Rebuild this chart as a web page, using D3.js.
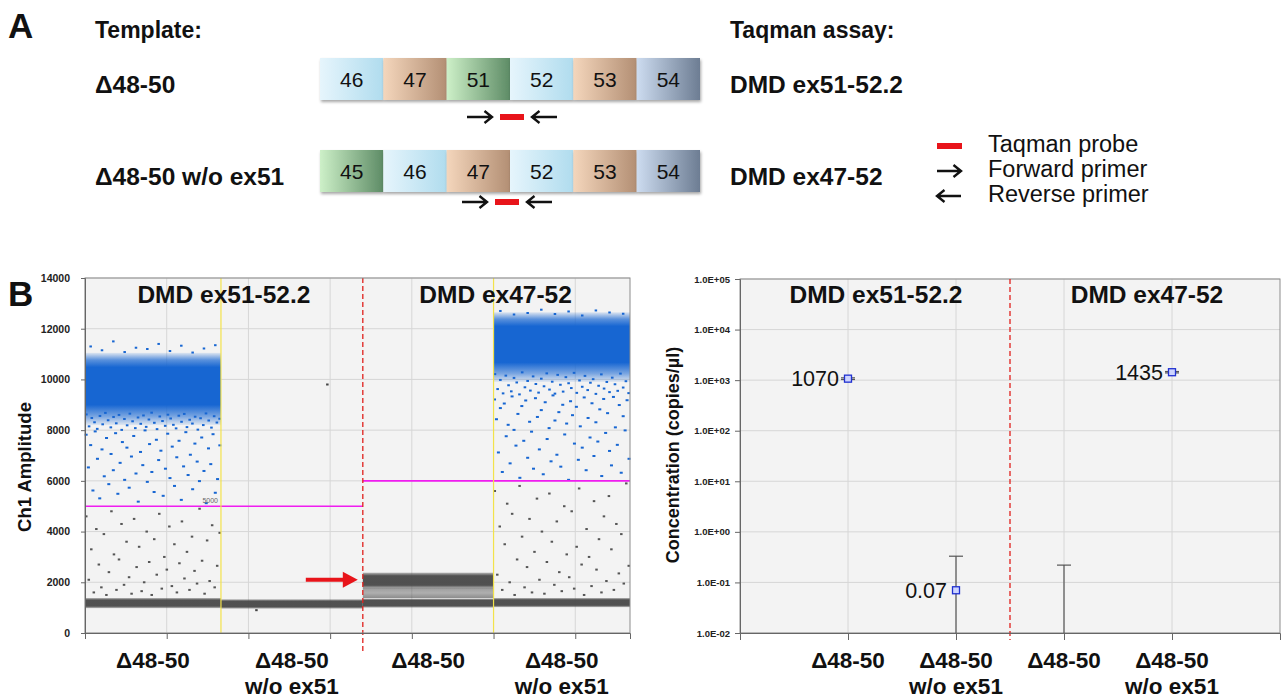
<!DOCTYPE html>
<html>
<head>
<meta charset="utf-8">
<script src="https://cdn.jsdelivr.net/npm/d3@7"></script>
<style>
  body { margin: 0; background: #fff; }
  text { font-family: "Liberation Sans", Arial, sans-serif; fill: #111; }
</style>
</head>
<body>
<svg id="fig" width="1286" height="700"></svg>
<script>
// ---------------- data ----------------
// panel A
const rowExons1 = ['46', '47', '51', '52', '53', '54']
const rowExons2 = ['45', '46', '47', '52', '53', '54']
const templates = ['Δ48-50', 'Δ48-50 w/o ex51']
const assays = ['DMD ex51-52.2', 'DMD ex47-52']
const legendItems = ['Taqman probe', 'Forward primer', 'Reverse primer']
const exonFamily = { 45: 'green', 46: 'blue', 47: 'tan', 51: 'green', 52: 'blue', 53: 'tan', 54: 'slate' }

// panel B left: droplet amplitudes
const wellLabels = [['Δ48-50'], ['Δ48-50', 'w/o ex51'], ['Δ48-50'], ['Δ48-50', 'w/o ex51']]
const wellEvents = [8320, 8680, 8000, 8350]
const thresholds = [5000, 5000, 6000, 6000]
// dense droplet clusters: well, low amplitude, high amplitude, kind
const clusterWell = [0, 0, 1, 2, 2, 2, 3, 3]
const clusterLow = [8200, 980, 960, 1000, 1380, 1760, 9900, 1020]
const clusterHigh = [11050, 1380, 1330, 1360, 1780, 2380, 12650, 1380]
const clusterKind = ['pos', 'neg', 'neg', 'neg', 'mid', 'neg', 'pos', 'neg']

// rain droplets, in event order
const w1NearCore = [8620, 8150, 8480, 8310, 8050, 8560, 8230, 8680, 8390, 8110, 8520, 8270, 8600, 8010, 8440, 8190,
  8650, 8350, 8080, 8500, 8250, 8580, 8130, 8420, 8690, 8290, 8040, 8540, 8360, 8170, 8610, 8460, 8210, 8070, 8570,
  8330, 8640, 8120, 8410, 8260, 8530, 8020, 8470, 8200, 8660, 8380, 8100, 8550, 8300, 8450]
const w1BlueRain = [7820, 6530, 7410, 5620, 7950, 6870, 5310, 7240, 6180, 7690, 5870, 7060, 6420, 7880, 5490, 6710,
  7530, 6040, 7310, 5730, 6960, 7770, 6290, 5180, 7140, 6620, 7990, 5960, 7450, 6350, 5560, 7620, 6820, 7190, 5410,
  6480, 7860, 6110, 7350, 5800, 6930, 7580, 5250, 6570, 7920, 6230, 7030, 5670, 7470, 6760, 5990, 7710, 6390, 5120,
  7280, 6660, 7840, 5530, 6070, 7400]
const w1GrayRain = [4600, 2100, 3300, 1600, 4100, 2700, 1800, 3900, 1500, 2400, 4800, 3100, 1700, 2900, 4300, 1900,
  3600, 2200, 1550, 4500, 2600, 3400, 1650, 2000, 4000, 2800, 1500, 3700, 2300, 4700, 1750, 3000, 2500, 4200, 1850,
  3500, 1600, 2750, 4400, 2150, 3200, 1700, 3800, 2450, 1950, 4900, 2850, 1550, 3650, 2050, 4250, 1800, 2650, 3950]
const w1Top = [11300, 11150, 11500, 11080, 11250, 11200, 11400, 11120, 11330, 11060, 11220, 11350]
const w2Odd = [900, 9800]
const w4NearCore = [10210, 9620, 9980, 9450, 10150, 9770, 9530, 10060, 9880, 9410, 10280, 9690, 9940, 9560, 10120,
  9820, 9480, 10030, 9730, 10240, 9600, 9910, 9440, 10180, 9790, 9520, 10090, 9850, 9660, 10260, 9470, 9960, 9710,
  10140, 9580, 9870, 10010, 9430, 9750, 10200, 9640, 9900, 9500, 10070, 9810, 9550, 10230, 9680, 9930, 9460]
const w4BlueRain = [9210, 8430, 7120, 8870, 6350, 9050, 7760, 8210, 6690, 9330, 8010, 7390, 8640, 6120, 8950, 7580,
  9170, 6910, 8330, 7940, 6480, 9260, 8520, 7240, 8790, 6260, 9100, 7650, 8080, 6770, 9370, 8380, 7030, 8710, 6560,
  9000, 7830, 8260, 6040, 9140, 8590, 7470, 8920, 6830, 8150, 7310, 9290, 6420, 8480, 7710, 9060, 6980, 8310, 7550,
  8820, 6190, 9230, 7890, 8670, 7180, 6610, 9310, 8110, 7420, 8990, 6320, 8550, 7990, 9180, 6870]
const w4GrayRain = [5600, 2300, 4200, 1700, 3500, 5100, 2000, 4700, 1500, 2900, 5800, 3800, 1800, 2600, 4500, 1600,
  3200, 5300, 2100, 4000, 1550, 2800, 5500, 3600, 1900, 4400, 2400, 1650, 5000, 3100, 2200, 4800, 1750, 3400, 5700,
  2700, 1500, 4100, 3000, 1850, 5200, 2500, 3700, 1600, 4600, 2050, 5400, 3300, 1700, 4300, 2350, 3900, 1950, 5900, 2650]
const w4Top = [12700, 12560, 12620, 12750, 12580, 12680, 12520, 12720, 12640, 12590]

// panel B right: concentration (copies/µl)
const concCats = ['c1', 'c2', 'c3', 'c4']
const concLabels = wellLabels
const concValues = [1070, 0.07, null, 1435]
const concLow = [1030, 0, 0, 1390]
const concHigh = [1110, 0.33, 0.22, 1480]
const concTicks = [1e-2, 1e-1, 1e0, 1e1, 1e2, 1e3, 1e4, 1e5]

// ---------------- drawing ----------------
const svg = d3.select('#fig')
const defs = svg.append('defs')
const RED = '#e8141a', BLUE = '#1766d2'

const grads = {
  blue: ['#e6f5fc', '#b0dcee'],
  tan: ['#f4d6bc', '#b38f74'],
  green: ['#cdf0c8', '#5e8c66'],
  slate: ['#cddcf0', '#6d7d93']
}
Object.entries(grads).forEach(([k, c]) => {
  const g = defs.append('linearGradient').attr('id', 'ex-' + k).attr('x1', 0).attr('x2', 1).attr('y1', 0).attr('y2', 0)
  g.append('stop').attr('offset', '0%').attr('stop-color', c[0])
  g.append('stop').attr('offset', '100%').attr('stop-color', c[1])
})
const shadow = defs.append('filter').attr('id', 'shadow').attr('x', '-10%').attr('y', '-10%').attr('width', '130%').attr('height', '140%')
shadow.append('feDropShadow').attr('dx', 1).attr('dy', 2).attr('stdDeviation', 1.5).attr('flood-color', '#000').attr('flood-opacity', 0.35)

function arrow(g, x0, x1, y) {
  const s = x1 > x0 ? -1 : 1
  g.append('path').attr('d', `M${x0},${y}L${x1},${y}M${x1 + s * 7.5},${y - 6}L${x1},${y}L${x1 + s * 7.5},${y + 6}`)
    .attr('fill', 'none').attr('stroke', '#111').attr('stroke-width', 2.4)
}

// ---- Panel A ----
svg.append('text').attr('x', 8).attr('y', 38).attr('font-size', 35).attr('font-weight', 'bold').text('A')
svg.append('text').attr('x', 95).attr('y', 38).attr('font-size', 23).attr('font-weight', 'bold').text('Template:')
svg.append('text').attr('x', 730).attr('y', 38).attr('font-size', 23).attr('font-weight', 'bold').text('Taqman assay:')

const exonX = d3.scaleBand().domain(d3.range(6)).range([320, 700])
const rows = [
  { exons: rowExons1, top: 58, h: 42, label: templates[0], assay: assays[0], ay: 117, shift: 2 },
  { exons: rowExons2, top: 150, h: 42, label: templates[1], assay: assays[1], ay: 202, shift: -3 }
]

rows.forEach(r => {
  svg.append('text').attr('x', 95).attr('y', r.top + 35).attr('font-size', 24.5).attr('font-weight', 'bold').text(r.label)
  svg.append('text').attr('x', 730).attr('y', r.top + 35).attr('font-size', 24.5).attr('font-weight', 'bold').text(r.assay)
  const g = svg.append('g')
  g.selectAll('rect').data(r.exons).join('rect')
    .attr('x', (d, i) => exonX(i)).attr('y', r.top)
    .attr('width', exonX.bandwidth()).attr('height', r.h)
    .attr('fill', d => 'url(#ex-' + exonFamily[d] + ')')
    .attr('filter', 'url(#shadow)')
  g.selectAll('text').data(r.exons).join('text')
    .attr('x', (d, i) => exonX(i) + exonX.bandwidth() / 2).attr('y', r.top + r.h / 2 + 7.5)
    .attr('text-anchor', 'middle').attr('font-size', 21).text(d => d)
  // primers + probe around the junction before exon 52
  const c = exonX(3) + r.shift
  arrow(g, c - 45, c - 20, r.ay)
  g.append('rect').attr('x', c - 12).attr('y', r.ay - 3).attr('width', 24).attr('height', 6).attr('fill', RED)
  arrow(g, c + 45, c + 20, r.ay)
})

// legend
const lg = svg.append('g')
lg.append('rect').attr('x', 937).attr('y', 143).attr('width', 25).attr('height', 6).attr('fill', RED)
arrow(lg, 937, 961, 171)
arrow(lg, 961, 937, 196)
legendItems.forEach((t, i) => {
  lg.append('text').attr('x', 988).attr('y', 152 + i * 25).attr('font-size', 23.5).text(t)
})

// ---- Panel B left: droplet plot ----
svg.append('text').attr('x', 8).attr('y', 306).attr('font-size', 35).attr('font-weight', 'bold').text('B')

const wellStart = [0]
wellEvents.forEach((n, i) => wellStart.push(wellStart[i] + n))
const totalEvents = wellStart[wellStart.length - 1]

const x = d3.scaleLinear().domain([0, totalEvents]).range([85, 630])
const y = d3.scaleLinear().domain([0, 14000]).range([633, 278])

const L = svg.append('g')
L.append('rect').attr('x', x(0)).attr('y', y(14000)).attr('width', x(totalEvents) - x(0)).attr('height', y(0) - y(14000)).attr('fill', '#f3f3f3')

const xTicks = d3.range(0, totalEvents, 5000)
const yTicks = d3.range(0, 14001, 2000)
L.selectAll('.hg').data(yTicks).join('line').attr('x1', x(0)).attr('x2', x(totalEvents))
  .attr('y1', d => y(d)).attr('y2', d => y(d)).attr('stroke', '#d6d6d6')
L.selectAll('.vg').data(xTicks).join('line').attr('y1', y(0)).attr('y2', y(14000))
  .attr('x1', d => x(d)).attr('x2', d => x(d)).attr('stroke', '#d6d6d6')

// dense clusters as shaded bands
const bandStops = {
  pos: [[0, 0.1], [0.1, 0.7], [0.2, 1], [0.72, 1], [0.88, 0.55], [1, 0.08]],
  neg: [[0, 0.35], [0.2, 0.95], [0.8, 0.95], [1, 0.35]],
  mid: [[0, 0.5], [0.5, 0.4], [1, 0.6]]
}
clusterWell.forEach((w, i) => {
  const id = 'cl' + i
  const col = clusterKind[i] === 'pos' ? BLUE : '#484848'
  const g = defs.append('linearGradient').attr('id', id).attr('x1', 0).attr('x2', 0).attr('y1', 0).attr('y2', 1)
  bandStops[clusterKind[i]].forEach(s => g.append('stop').attr('offset', s[0]).attr('stop-color', col).attr('stop-opacity', s[1]))
  L.append('rect')
    .attr('x', x(wellStart[w])).attr('width', x(wellStart[w + 1]) - x(wellStart[w]))
    .attr('y', y(clusterHigh[i])).attr('height', y(clusterLow[i]) - y(clusterHigh[i]))
    .attr('fill', 'url(#' + id + ')')
})

// rain droplets placed by event order within their well
function rain(vals, well, color, w) {
  const n = vals.length
  L.append('g').selectAll('rect').data(vals).join('rect')
    .attr('x', (d, i) => x(wellStart[well] + (i + 0.5) / n * wellEvents[well]) - w / 2)
    .attr('y', d => y(d) - 1)
    .attr('width', w).attr('height', 2)
    .attr('fill', color)
}
rain(w1NearCore, 0, BLUE, 2.6)
rain(w1BlueRain, 0, BLUE, 3)
rain(w1Top, 0, BLUE, 2.5)
rain(w1GrayRain, 0, '#555', 2.5)
rain(w2Odd, 1, '#444', 2.5)
rain(w4NearCore, 3, BLUE, 2.6)
rain(w4BlueRain, 3, BLUE, 3)
rain(w4Top, 3, BLUE, 2.5)
rain(w4GrayRain, 3, '#555', 2.5)

// thresholds
thresholds.forEach((t, i) => {
  L.append('line').attr('x1', x(wellStart[i])).attr('x2', x(wellStart[i + 1]))
    .attr('y1', y(t)).attr('y2', y(t)).attr('stroke', '#f01cf0').attr('stroke-width', 1.6)
})
L.append('text').attr('x', x(wellStart[1]) - 3).attr('y', y(thresholds[0]) - 3).attr('text-anchor', 'end')
  .attr('font-size', 7).style('fill', '#666').text(thresholds[0])

// well separators
;[1, 3].forEach(i => {
  L.append('line').attr('x1', x(wellStart[i])).attr('x2', x(wellStart[i])).attr('y1', y(14000)).attr('y2', y(0))
    .attr('stroke', '#f2e24a').attr('stroke-width', 1.2)
})
L.append('line').attr('x1', x(wellStart[2])).attr('x2', x(wellStart[2])).attr('y1', y(14000)).attr('y2', 652)
  .attr('stroke', '#e0201c').attr('stroke-width', 1.3).attr('stroke-dasharray', '5,3')

// arrow pointing at the ex47-52 positive band
const ax = x(wellStart[2]) - 5, ay = y(2100)
L.append('line').attr('x1', ax - 52).attr('x2', ax - 12).attr('y1', ay).attr('y2', ay).attr('stroke', RED).attr('stroke-width', 4)
L.append('path').attr('d', `M${ax},${ay}L${ax - 15},${ay - 8}L${ax - 15},${ay + 8}Z`).attr('fill', RED)

// frame + axes
L.append('rect').attr('x', x(0)).attr('y', y(14000)).attr('width', x(totalEvents) - x(0)).attr('height', y(0) - y(14000))
  .attr('fill', 'none').attr('stroke', '#8c8c8c')
const yAx = L.append('g').attr('transform', `translate(${x(0)},0)`)
  .call(d3.axisLeft(y).tickValues(yTicks).tickSize(4).tickFormat(d3.format('d')))
yAx.selectAll('text').attr('font-size', 10.5).attr('font-weight', 'bold').attr('dx', -8).style('fill', '#222')
const xAx = L.append('g').attr('transform', `translate(0,${y(0)})`)
  .call(d3.axisBottom(x).tickValues(xTicks).tickSize(6).tickFormat(''))
;[yAx, xAx].forEach(a => { a.select('.domain').attr('stroke', '#666'); a.selectAll('line').attr('stroke', '#666') })

L.append('text').attr('transform', 'translate(31,467) rotate(-90)').attr('text-anchor', 'middle')
  .attr('font-size', 18.5).attr('font-weight', 'bold').text('Ch1 Amplitude')

L.append('text').attr('x', (x(wellStart[0]) + x(wellStart[2])) / 2).attr('y', 303).attr('text-anchor', 'middle')
  .attr('font-size', 24.5).attr('font-weight', 'bold').text(assays[0])
L.append('text').attr('x', x(wellStart[3]) + 2).attr('y', 303).attr('text-anchor', 'middle')
  .attr('font-size', 24.5).attr('font-weight', 'bold').text(assays[1])

wellLabels.forEach((lines, i) => {
  const cx = x((wellStart[i] + wellStart[i + 1]) / 2)
  lines.forEach((t, j) => {
    L.append('text').attr('x', cx).attr('y', 668 + j * 26).attr('text-anchor', 'middle')
      .attr('font-size', 22.5).attr('font-weight', 'bold').text(t)
  })
})

// ---- Panel B right: concentration ----
const xr = d3.scalePoint().domain(concCats).range([740, 1280]).padding(1)
const yr = d3.scaleLog().domain([0.01, 1e5]).range([633, 279])
const yc = v => v < 0.01 ? yr(0.01) : yr(v)
const R = svg.append('g')
R.append('rect').attr('x', 740).attr('y', yr(1e5)).attr('width', 540).attr('height', yr(0.01) - yr(1e5)).attr('fill', '#f3f3f3')
R.selectAll('.hg').data(concTicks).join('line').attr('x1', 740).attr('x2', 1280)
  .attr('y1', d => yr(d)).attr('y2', d => yr(d)).attr('stroke', '#d6d6d6')
R.selectAll('.vg').data(concCats).join('line').attr('x1', d => xr(d)).attr('x2', d => xr(d))
  .attr('y1', yr(0.01)).attr('y2', yr(1e5)).attr('stroke', '#d6d6d6')
R.append('rect').attr('x', 740).attr('y', yr(1e5)).attr('width', 540).attr('height', yr(0.01) - yr(1e5))
  .attr('fill', 'none').attr('stroke', '#8c8c8c')

const sepX = (xr(concCats[1]) + xr(concCats[2])) / 2
R.append('line').attr('x1', sepX).attr('x2', sepX).attr('y1', yr(1e5)).attr('y2', 640)
  .attr('stroke', '#e0201c').attr('stroke-width', 1.3).attr('stroke-dasharray', '5,3')

const expFmt = d => {
  const e = Math.round(Math.log10(d))
  return '1.0E' + (e < 0 ? '-' : '+') + String(Math.abs(e)).padStart(2, '0')
}
const yrAx = R.append('g').attr('transform', 'translate(740,0)')
  .call(d3.axisLeft(yr).tickValues(concTicks).tickSize(5).tickFormat(expFmt))
yrAx.selectAll('text').attr('font-size', 9.5).attr('font-weight', 'bold').attr('dx', -2).style('fill', '#222')
const xrAx = R.append('g').attr('transform', `translate(0,${yr(0.01)})`)
  .call(d3.axisBottom(xr).tickSize(7).tickFormat(''))
;[yrAx, xrAx].forEach(a => { a.select('.domain').attr('stroke', '#666'); a.selectAll('line').attr('stroke', '#666') })

// error bars
concCats.forEach((c, i) => {
  const cx = xr(c), y1 = yc(concLow[i]), y2 = yc(concHigh[i])
  R.append('line').attr('x1', cx).attr('x2', cx).attr('y1', y1).attr('y2', y2).attr('stroke', '#555').attr('stroke-width', 1.2)
  const caps = concLow[i] >= 0.01 ? [y1, y2] : [y2]
  caps.forEach(yy => R.append('line').attr('x1', cx - 7).attr('x2', cx + 7).attr('y1', yy).attr('y2', yy)
    .attr('stroke', '#555').attr('stroke-width', 1.2))
})
// points + value labels
concCats.forEach((c, i) => {
  if (concValues[i] == null) return
  const cx = xr(c), cy = yr(concValues[i])
  R.append('rect').attr('x', cx - 3.5).attr('y', cy - 3.5).attr('width', 7).attr('height', 7)
    .attr('fill', '#cdd4ff').attr('stroke', '#2030d0').attr('stroke-width', 1.3)
  R.append('text').attr('x', cx - 9).attr('y', cy + 7.5).attr('text-anchor', 'end')
    .attr('font-size', 21.5).text(String(concValues[i]))
})

R.append('text').attr('transform', 'translate(679,455) rotate(-90)').attr('text-anchor', 'middle')
  .attr('font-size', 18).attr('font-weight', 'bold').text('Concentration (copies/µl)')
R.append('text').attr('x', (740 + sepX) / 2 + 1).attr('y', 303).attr('text-anchor', 'middle')
  .attr('font-size', 24.5).attr('font-weight', 'bold').text(assays[0])
R.append('text').attr('x', (sepX + 1280) / 2 + 2).attr('y', 303).attr('text-anchor', 'middle')
  .attr('font-size', 24.5).attr('font-weight', 'bold').text(assays[1])
concLabels.forEach((lines, i) => {
  lines.forEach((t, j) => {
    R.append('text').attr('x', xr(concCats[i])).attr('y', 668 + j * 26).attr('text-anchor', 'middle')
      .attr('font-size', 22.5).attr('font-weight', 'bold').text(t)
  })
})
</script>
</body>
</html>
